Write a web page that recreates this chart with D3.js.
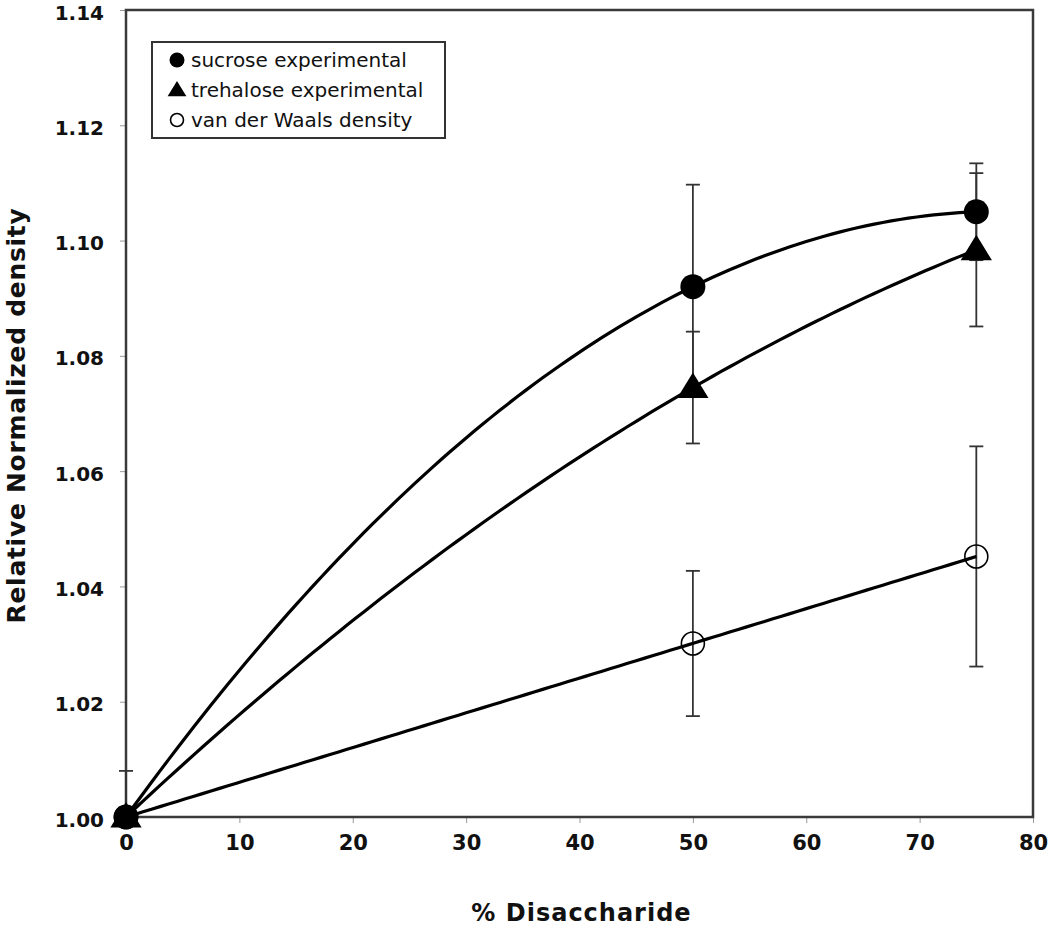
<!DOCTYPE html>
<html>
<head>
<meta charset="utf-8">
<script src="https://cdn.jsdelivr.net/npm/d3@7"></script>
<style>
  html, body { margin: 0; padding: 0; background: #fff; }
  svg { display: block; }
</style>
</head>
<body>
<svg id="chart" width="1050" height="928"></svg>
<script>
// ---- data ----
const xValues = [0, 50, 75];
const sucroseValues = [1.000, 1.092, 1.105];
const sucroseErrors = [0.008, 0.0177, 0.0084];
const trehaloseValues = [1.000, 1.0745, 1.0984];
const trehaloseErrors = [0, 0.0097, 0.0133];
const vdwValues = [1.000, 1.0301, 1.0452];
const vdwErrors = [0, 0.0126, 0.0191];
const seriesNames = ["sucrose experimental", "trehalose experimental", "van der Waals density"];
const trendOrders = [2, 2, 1];
const xTicks = [0, 10, 20, 30, 40, 50, 60, 70, 80];
const yTicks = [1.00, 1.02, 1.04, 1.06, 1.08, 1.10, 1.12, 1.14];

const svg = d3.select("#chart");
const margin = { left: 126, top: 10, right: 1050 - 1033, bottom: 928 - 817 };
const W = 1050, H = 928;

const x = d3.scaleLinear().domain([0, 80]).range([margin.left, W - margin.right]);
const y = d3.scaleLinear().domain([1.00, 1.14]).range([H - margin.bottom, margin.top]);

const font = "'DejaVu Sans', Verdana, sans-serif";

// clip for error bars (nothing below the x axis)
svg.append("defs").append("clipPath").attr("id", "plotclip")
  .append("rect").attr("x", 0).attr("y", 0)
  .attr("width", W).attr("height", y(1.00));

// axes (ticks + labels)
const xAxis = d3.axisBottom(x).tickValues(xTicks).tickSize(6).tickPadding(12).tickFormat(d3.format("d"));
const gx = svg.append("g").attr("transform", `translate(0,${y(1.00)})`).call(xAxis);
gx.select(".domain").remove();
gx.selectAll(".tick line").attr("stroke", "#999").attr("stroke-width", 1);
gx.selectAll(".tick text").attr("font-family", font).attr("font-weight", "bold")
  .attr("font-size", 21).attr("fill", "#111");

const yAxis = d3.axisLeft(y).tickValues(yTicks).tickSize(6).tickPadding(16).tickFormat(d3.format(".2f"));
const gy = svg.append("g").attr("transform", `translate(${x(0)},0)`).call(yAxis);
gy.select(".domain").remove();
gy.selectAll(".tick line").attr("stroke", "#999").attr("stroke-width", 1);
gy.selectAll(".tick text").attr("font-family", font).attr("font-weight", "bold")
  .attr("font-size", 20).attr("fill", "#111").attr("dy", "0.45em");

// plot frame
svg.append("rect")
  .attr("x", x(0)).attr("y", y(1.14))
  .attr("width", x(80) - x(0)).attr("height", y(1.00) - y(1.14))
  .attr("fill", "none").attr("stroke", "#3a3a3a").attr("stroke-width", 2.5);

// axis titles
svg.append("text")
  .attr("x", (x(0) + x(80)) / 2 + 2).attr("y", 921)
  .attr("text-anchor", "middle")
  .attr("font-family", font).attr("font-weight", "bold").attr("font-size", 24)
  .attr("letter-spacing", 1)
  .attr("fill", "#111")
  .text("% Disaccharide");

svg.append("text")
  .attr("transform", `translate(25,${(y(1.00) + y(1.14)) / 2 + 2}) rotate(-90)`)
  .attr("text-anchor", "middle")
  .attr("font-family", font).attr("font-weight", "bold").attr("font-size", 25)
  .attr("letter-spacing", 0.7)
  .attr("fill", "#111")
  .text("Relative Normalized density");

const series = [
  { name: seriesNames[0], vals: sucroseValues, errs: sucroseErrors, sym: "circle", order: trendOrders[0] },
  { name: seriesNames[1], vals: trehaloseValues, errs: trehaloseErrors, sym: "triangle", order: trendOrders[1] },
  { name: seriesNames[2], vals: vdwValues, errs: vdwErrors, sym: "open", order: trendOrders[2] }
];

// error bars
const eg = svg.append("g").attr("clip-path", "url(#plotclip)");
series.forEach(s => {
  xValues.forEach((xv, i) => {
    const e = s.errs[i];
    if (!e) return;
    const cx = x(xv);
    const y1 = y(s.vals[i] + e), y2 = y(s.vals[i] - e);
    eg.append("line").attr("x1", cx).attr("x2", cx).attr("y1", y1).attr("y2", y2)
      .attr("stroke", "#333").attr("stroke-width", 1.8);
    [y1, y2].forEach(yy => eg.append("line")
      .attr("x1", cx - 7).attr("x2", cx + 7).attr("y1", yy).attr("y2", yy)
      .attr("stroke", "#333").attr("stroke-width", 1.8));
  });
});

// least-squares polynomial trendline (like a spreadsheet trendline)
function polyfit(xs, ys, order) {
  const n = order + 1;
  const A = Array.from({ length: n }, () => new Array(n + 1).fill(0));
  for (let r = 0; r < n; r++) {
    for (let c = 0; c < n; c++) A[r][c] = d3.sum(xs, xv => Math.pow(xv, r + c));
    A[r][n] = d3.sum(xs.map((xv, k) => ys[k] * Math.pow(xv, r)));
  }
  for (let i = 0; i < n; i++) {
    let p = i;
    for (let k = i + 1; k < n; k++) if (Math.abs(A[k][i]) > Math.abs(A[p][i])) p = k;
    [A[i], A[p]] = [A[p], A[i]];
    for (let k = i + 1; k < n; k++) {
      const f = A[k][i] / A[i][i];
      for (let c = i; c <= n; c++) A[k][c] -= f * A[i][c];
    }
  }
  const coef = new Array(n).fill(0);
  for (let i = n - 1; i >= 0; i--) {
    let s = A[i][n];
    for (let c = i + 1; c < n; c++) s -= A[i][c] * coef[c];
    coef[i] = s / A[i][i];
  }
  return xv => coef.reduce((acc, cf, k) => acc + cf * Math.pow(xv, k), 0);
}

const line = d3.line().x(d => x(d[0])).y(d => y(d[1])).curve(d3.curveLinear);
series.forEach(s => {
  const f = polyfit(xValues, s.vals, s.order);
  const x0 = d3.min(xValues), x1 = d3.max(xValues);
  const pts = d3.range(0, 101).map(k => { const xv = x0 + (x1 - x0) * k / 100; return [xv, f(xv)]; });
  svg.append("path").attr("d", line(pts))
    .attr("fill", "none").attr("stroke", "#000").attr("stroke-width", 3.2);
});

// markers
function drawMarker(g, sym, cx, cy, size) {
  if (sym === "circle") {
    g.append("circle").attr("cx", cx).attr("cy", cy).attr("r", size).attr("fill", "#000");
  } else if (sym === "triangle") {
    const w = size * 1.25, h = size * 2.0;
    g.append("path")
      .attr("d", `M${cx},${cy - h * 0.6}L${cx + w},${cy + h * 0.42}L${cx - w},${cy + h * 0.42}Z`)
      .attr("fill", "#000");
  } else {
    g.append("circle").attr("cx", cx).attr("cy", cy).attr("r", size - 1)
      .attr("fill", "none").attr("stroke", "#000").attr("stroke-width", 1.6);
  }
}
const mg = svg.append("g");
series.forEach(s => {
  xValues.forEach((xv, i) => drawMarker(mg, s.sym, x(xv), y(s.vals[i]), 12.5));
});

// legend
const lg = svg.append("g");
lg.append("rect").attr("x", 152).attr("y", 42).attr("width", 293).attr("height", 96)
  .attr("fill", "#fff").attr("stroke", "#333").attr("stroke-width", 2);
series.forEach((s, i) => {
  const cy = 60 + i * 30;
  drawMarker(lg, s.sym, 177, cy, 7.5);
  lg.append("text").attr("x", 191).attr("y", cy).attr("dy", "0.36em")
    .attr("font-family", font).attr("font-size", 20).attr("fill", "#111")
    .text(s.name);
});
</script>
</body>
</html>
